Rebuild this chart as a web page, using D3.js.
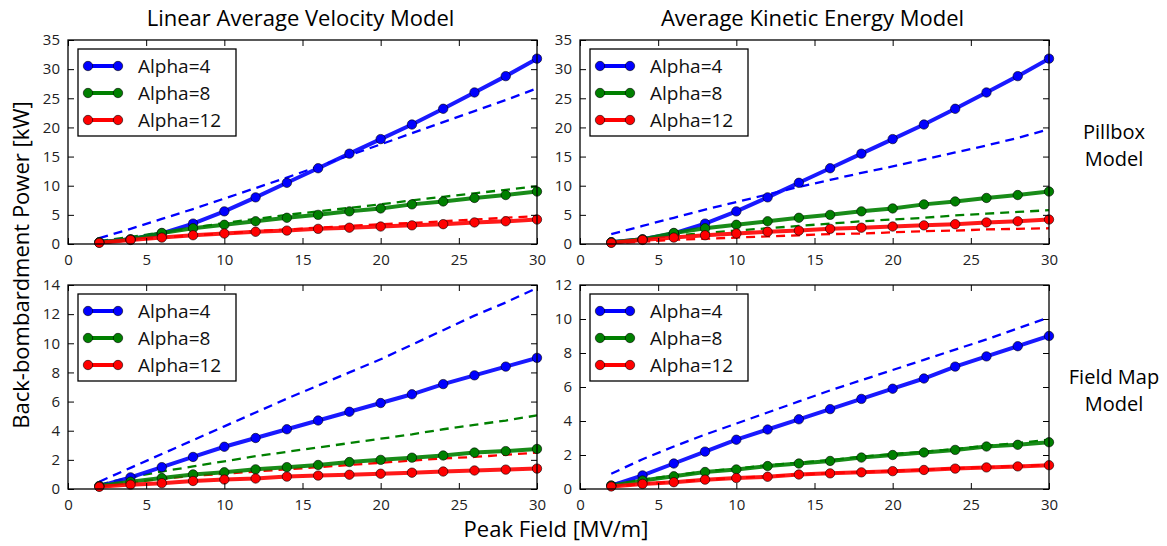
<!DOCTYPE html>
<html lang="en">
<head>
  <meta charset="UTF-8">
  <title>Back-bombardment Power</title>
  <script src="https://d3js.org/d3.v7.min.js"></script>
  <style>
    body {
      margin: 0;
      background: #fff;
    }

    svg {
      display: block;
      font-family: "Open Sans", sans-serif;
    }

    .tick-label {
      font-size: 15px;
      fill: #222;
    }

    .legend-label {
      font-size: 19px;
      fill: #111;
    }

    .big-label {
      font-size: 20px;
      fill: #000;
    }
  </style>
</head>
<body>
  <svg width="1167" height="546"></svg>

  <script>
    // peak field values [MV/m]
    const fieldX = [2, 4, 6, 8, 10, 12, 14, 16, 18, 20, 22, 24, 26, 28, 30];

    const alphaNames = ["Alpha=4", "Alpha=8", "Alpha=12"];
    const alphaColors = ["#0000ff", "#008000", "#ff0000"];

    // simulation (solid, with markers) - pillbox cavity
    const pillboxSim4 = [0.3, 0.8, 1.8, 3.5, 5.6, 8.0, 10.5, 13.0, 15.5, 18.0, 20.5, 23.2, 26.0, 28.8, 31.8];
    const pillboxSim8 = [0.3, 0.8, 1.9, 2.7, 3.3, 3.9, 4.5, 5.0, 5.6, 6.1, 6.8, 7.3, 7.9, 8.4, 9.0];
    const pillboxSim12 = [0.2, 0.7, 1.1, 1.5, 1.8, 2.1, 2.3, 2.6, 2.8, 3.0, 3.2, 3.4, 3.7, 3.9, 4.2];

    // simulation (solid, with markers) - field map
    const fieldMapSim4 = [0.2, 0.8, 1.5, 2.2, 2.9, 3.5, 4.1, 4.7, 5.3, 5.9, 6.5, 7.2, 7.8, 8.4, 9.0];
    const fieldMapSim8 = [0.2, 0.5, 0.75, 1.0, 1.15, 1.35, 1.5, 1.65, 1.85, 2.0, 2.15, 2.3, 2.5, 2.6, 2.75];
    const fieldMapSim12 = [0.15, 0.3, 0.4, 0.55, 0.65, 0.72, 0.85, 0.92, 0.98, 1.05, 1.12, 1.2, 1.27, 1.33, 1.4];

    // models (dashed)
    const lavPillbox4 = [1.0, 2.6, 4.3, 6.0, 7.8, 9.6, 11.4, 13.3, 15.2, 17.1, 19.0, 20.9, 22.8, 24.7, 26.7];
    const lavPillbox8 = [0.5, 1.2, 2.0, 2.8, 3.6, 4.3, 5.0, 5.6, 6.2, 6.8, 7.5, 8.1, 8.7, 9.3, 9.9];
    const lavPillbox12 = [0.3, 0.7, 1.1, 1.5, 1.8, 2.2, 2.5, 2.8, 3.1, 3.4, 3.6, 3.9, 4.2, 4.5, 4.8];

    const akePillbox4 = [1.7, 3.1, 4.5, 5.9, 7.2, 8.5, 9.8, 11.0, 12.2, 13.3, 14.5, 15.7, 16.9, 18.2, 19.7];
    const akePillbox8 = [0.4, 0.9, 1.4, 1.9, 2.3, 2.7, 3.1, 3.5, 3.9, 4.2, 4.5, 4.9, 5.2, 5.5, 5.8];
    const akePillbox12 = [0.1, 0.4, 0.7, 0.9, 1.1, 1.3, 1.5, 1.7, 1.8, 2.0, 2.2, 2.3, 2.5, 2.6, 2.7];

    const lavFieldMap4 = [0.5, 1.45, 2.4, 3.35, 4.3, 5.25, 6.2, 7.1, 8.0, 8.9, 9.9, 10.9, 11.9, 12.8, 13.8];
    const lavFieldMap8 = [0.3, 0.8, 1.2, 1.55, 1.9, 2.25, 2.55, 2.85, 3.15, 3.45, 3.75, 4.1, 4.4, 4.7, 5.05];
    const lavFieldMap12 = [0.2, 0.45, 0.7, 0.9, 1.05, 1.2, 1.35, 1.5, 1.65, 1.8, 1.95, 2.1, 2.2, 2.35, 2.5];

    const akeFieldMap4 = [0.9, 1.75, 2.5, 3.2, 3.85, 4.5, 5.15, 5.8, 6.4, 7.0, 7.6, 8.2, 8.8, 9.45, 10.1];
    const akeFieldMap8 = [0.3, 0.55, 0.8, 1.05, 1.2, 1.4, 1.55, 1.7, 1.9, 2.05, 2.2, 2.35, 2.55, 2.7, 2.9];
    const akeFieldMap12 = [0.15, 0.3, 0.42, 0.55, 0.65, 0.75, 0.85, 0.93, 1.0, 1.07, 1.14, 1.22, 1.29, 1.35, 1.42];

    const xTicks = [0, 5, 10, 15, 20, 25, 30];
    const pillboxYTicks = [0, 5, 10, 15, 20, 25, 30, 35];
    const lavFieldMapYTicks = [0, 2, 4, 6, 8, 10, 12, 14];
    const akeFieldMapYTicks = [0, 2, 4, 6, 8, 10, 12];

    const columnTitles = ["Linear Average Velocity Model", "Average Kinetic Energy Model"];
    const rowLabels = [["Pillbox", "Model"], ["Field Map", "Model"]];

    const panels = [
      { col: 0, row: 0, yTicks: pillboxYTicks, sim: [pillboxSim4, pillboxSim8, pillboxSim12], model: [lavPillbox4, lavPillbox8, lavPillbox12] },
      { col: 1, row: 0, yTicks: pillboxYTicks, sim: [pillboxSim4, pillboxSim8, pillboxSim12], model: [akePillbox4, akePillbox8, akePillbox12] },
      { col: 0, row: 1, yTicks: lavFieldMapYTicks, sim: [fieldMapSim4, fieldMapSim8, fieldMapSim12], model: [lavFieldMap4, lavFieldMap8, lavFieldMap12] },
      { col: 1, row: 1, yTicks: akeFieldMapYTicks, sim: [fieldMapSim4, fieldMapSim8, fieldMapSim12], model: [akeFieldMap4, akeFieldMap8, akeFieldMap12] }
    ];

    const svg = d3.select("svg");

    const colLeft = [68, 580];
    const rowTop = [40, 285];
    const pw = 469;
    const ph = 204;

    panels.forEach(p => {
      const x0 = colLeft[p.col];
      const y0 = rowTop[p.row];
      const yMax = d3.max(p.yTicks);

      const x = d3.scaleLinear().domain([0, 30]).range([0, pw]);
      const y = d3.scaleLinear().domain([0, yMax]).range([ph, 0]);

      const g = svg.append("g").attr("transform", `translate(${x0},${y0})`);

      const clipId = `clip-${p.col}-${p.row}`;
      g.append("clipPath").attr("id", clipId)
        .append("rect").attr("width", pw).attr("height", ph);

      const plot = g.append("g").attr("clip-path", `url(#${clipId})`);

      const line = d3.line()
        .x((d, i) => x(fieldX[i]))
        .y(d => y(d));

      // dashed model curves
      p.model.forEach((vals, k) => {
        plot.append("path")
          .datum(vals)
          .attr("d", line)
          .attr("fill", "none")
          .attr("stroke", alphaColors[k])
          .attr("stroke-width", 2.3)
          .attr("stroke-dasharray", "9,6");
      });

      // solid simulation curves with markers
      p.sim.forEach((vals, k) => {
        plot.append("path")
          .datum(vals)
          .attr("d", line)
          .attr("fill", "none")
          .attr("stroke", alphaColors[k])
          .attr("stroke-width", 4)
          .attr("stroke-opacity", 0.9);

        g.selectAll(null)
          .data(vals)
          .enter().append("circle")
          .attr("cx", (d, i) => x(fieldX[i]))
          .attr("cy", d => y(d))
          .attr("r", 4.7)
          .attr("fill", alphaColors[k])
          .attr("stroke", "#000")
          .attr("stroke-width", 0.6);
      });

      // axes: matplotlib classic style, inward ticks on all sides
      const bottom = d3.axisBottom(x).tickValues(xTicks).tickSizeInner(-6).tickSizeOuter(0).tickPadding(10);
      const top = d3.axisTop(x).tickValues(xTicks).tickSizeInner(-6).tickSizeOuter(0).tickFormat("");
      const left = d3.axisLeft(y).tickValues(p.yTicks).tickSizeInner(-6).tickSizeOuter(0).tickPadding(8);
      const right = d3.axisRight(y).tickValues(p.yTicks).tickSizeInner(-6).tickSizeOuter(0).tickFormat("");

      [
        g.append("g").attr("transform", `translate(0,${ph})`).call(bottom),
        g.append("g").call(top),
        g.append("g").call(left),
        g.append("g").attr("transform", `translate(${pw},0)`).call(right)
      ].forEach(a => {
        a.select(".domain").remove();
        a.selectAll("line").attr("stroke", "#000").attr("stroke-width", 1);
        a.selectAll("text").attr("class", "tick-label").attr("font-family", "Open Sans").attr("font-size", null);
      });

      g.append("rect")
        .attr("width", pw).attr("height", ph)
        .attr("fill", "none").attr("stroke", "#000").attr("stroke-width", 1.3);

      // legend
      const lg = g.append("g").attr("transform", "translate(10,9)");
      lg.append("rect")
        .attr("width", 158).attr("height", 87)
        .attr("fill", "#fff").attr("stroke", "#000").attr("stroke-width", 1.3);

      alphaNames.forEach((name, k) => {
        const ly = 17 + k * 27;
        lg.append("line")
          .attr("x1", 10).attr("x2", 40).attr("y1", ly).attr("y2", ly)
          .attr("stroke", alphaColors[k]).attr("stroke-width", 4);
        [10, 40].forEach(cx => {
          lg.append("circle")
            .attr("cx", cx).attr("cy", ly).attr("r", 4.7)
            .attr("fill", alphaColors[k]).attr("stroke", "#000").attr("stroke-width", 0.6);
        });
        lg.append("text")
          .attr("class", "legend-label")
          .attr("x", 60).attr("y", ly)
          .attr("dy", "0.35em")
          .text(name);
      });
    });

    // column titles
    columnTitles.forEach((t, i) => {
      svg.append("text")
        .attr("class", "big-label")
        .style("font-size", "22px")
        .attr("x", colLeft[i] + pw / 2 - 2)
        .attr("y", 26)
        .attr("text-anchor", "middle")
        .text(t);
    });

    // row labels on the right
    rowLabels.forEach((lines, r) => {
      const cy = rowTop[r] + ph / 2 - 10;
      lines.forEach((t, j) => {
        svg.append("text")
          .attr("class", "big-label")
          .attr("x", 1114)
          .attr("y", cy + j * 27)
          .attr("dy", "0.35em")
          .attr("text-anchor", "middle")
          .text(t);
      });
    });

    svg.append("text")
      .attr("class", "big-label")
      .style("font-size", "22px")
      .attr("x", 556)
      .attr("y", 537)
      .attr("text-anchor", "middle")
      .text("Peak Field [MV/m]");

    svg.append("text")
      .attr("class", "big-label")
      .style("font-size", "22px")
      .attr("transform", "translate(29,265) rotate(-90)")
      .attr("text-anchor", "middle")
      .text("Back-bombardment Power [kW]");
  </script>
</body>
</html>
